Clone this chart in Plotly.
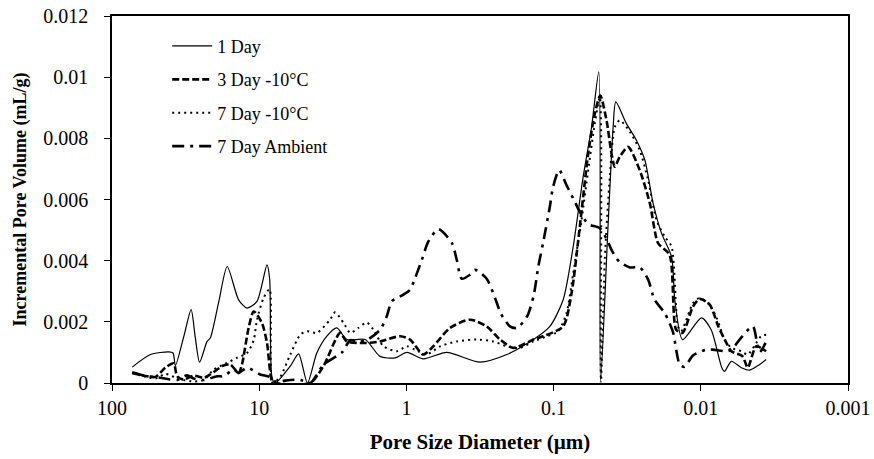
import plotly.graph_objects as go

# ---- data (pore diameter in µm, incremental pore volume in mL/g) ----
d_1day = [72.9, 54.8, 41.2, 38.5, 37.1, 32.6, 29.0, 27.2, 25.4, 22.6, 21.5, 18.8, 16.5, 13.8, 12.1, 10.35,
          8.85, 8.49, 8.18, 7.78, 6.15, 5.4, 4.70, 4.06, 3.47, 2.97, 2.54, 1.905, 1.51, 1.19, 0.993, 0.767,
          0.532, 0.316, 0.208, 0.137, 0.106, 0.0861, 0.0736, 0.0630, 0.0552, 0.0493, 0.0480, 0.0427, 0.0394,
          0.0378, 0.0320, 0.0274, 0.0240, 0.0211, 0.0185, 0.0158, 0.0150, 0.0133, 0.0099, 0.0085, 0.0072,
          0.0069, 0.0062, 0.0053, 0.00466, 0.0040, 0.0036]
v_1day = [0.00052, 0.00093, 0.00102, 0.00098, 0.00057, 0.0015, 0.0024, 0.0015, 0.00068, 0.00136, 0.00147,
          0.00267, 0.00381, 0.00272, 0.00245, 0.00267, 0.00386, 0.0034, 0.00017, 0.0, 0.00055, 0.00095, 0.0,
          0.00098, 0.00153, 0.0018, 0.00142, 0.00142, 0.00087, 0.00082, 0.001, 0.00079, 0.001, 0.00068,
          0.00093, 0.00142, 0.00185, 0.00272, 0.00446, 0.00674, 0.00837, 0.01017, 0.00005, 0.0051, 0.00837,
          0.00919, 0.00848, 0.00794, 0.00729, 0.00588, 0.0049, 0.00413, 0.0027, 0.00142, 0.00213, 0.00174,
          0.0005, 0.00038, 0.00071, 0.0005, 0.00042, 0.0006, 0.00077]

d_3day = [72.9, 57.7, 50.7, 43.4, 38.1, 36.1, 32.6, 27.9, 23.8, 21.5, 17.5, 15.7, 13.8, 13.1, 11.8, 10.9,
          9.57, 8.85, 8.18, 7.78, 4.50, 3.66, 2.82, 2.54, 1.86, 1.51, 1.10, 0.944, 0.767, 0.656, 0.506, 0.370,
          0.285, 0.231, 0.188, 0.137, 0.118, 0.0861, 0.0755, 0.0664, 0.0582, 0.0525, 0.0482, 0.0437, 0.0404,
          0.0384, 0.0355, 0.0312, 0.0260, 0.0222, 0.0195, 0.0163, 0.0147, 0.0133, 0.0113, 0.0102, 0.0087,
          0.0076, 0.0067, 0.0062, 0.0052, 0.0048, 0.0042, 0.0036]
v_3day = [0.00033, 0.00022, 0.0002, 0.0005, 0.00064, 0.00022, 0.00011, 0.00024, 0.00017, 0.00028, 0.00057,
          0.0006, 0.00033, 0.0006, 0.0018, 0.00234, 0.00196, 0.00131, 0.00006, 0.0, 0.0, 0.00055, 0.00164,
          0.00136, 0.00131, 0.00136, 0.00153, 0.00142, 0.00093, 0.0012, 0.0018, 0.00207, 0.00185, 0.00142,
          0.00115, 0.00142, 0.00153, 0.00185, 0.00294, 0.00511, 0.0075, 0.00881, 0.0094, 0.00859, 0.0075,
          0.00707, 0.0074, 0.00772, 0.00696, 0.00588, 0.00457, 0.00419, 0.00174, 0.00164, 0.0025, 0.00275,
          0.00256, 0.00185, 0.00131, 0.00104, 0.00087, 0.0005, 0.0012, 0.00104]

d_7day = [72.9, 60.8, 50.7, 43.4, 37.1, 32.6, 27.9, 23.8, 20.4, 17.5, 16.5, 14.2, 12.1, 10.9, 10.35, 9.34,
          8.49, 8.1, 7.19, 6.15, 5.26, 4.74, 4.06, 3.30, 3.05, 2.67, 2.41, 2.12, 1.86, 1.675, 1.43, 1.16,
          0.993, 0.873, 0.728, 0.590, 0.455, 0.333, 0.257, 0.208, 0.169, 0.137, 0.111, 0.0931, 0.0817,
          0.0736, 0.0646, 0.0582, 0.0525, 0.0485, 0.0477, 0.0449, 0.0415, 0.0384, 0.0355, 0.0303, 0.0260,
          0.0228, 0.0200, 0.0176, 0.0158, 0.0143, 0.0136, 0.0113, 0.0102, 0.0089, 0.0078, 0.0069, 0.0062,
          0.0053, 0.0048, 0.0042, 0.0039, 0.0036]
v_7day = [0.00033, 0.00022, 0.00015, 0.0003, 0.00018, 0.0001, 0.00005, 0.0001, 0.00044, 0.0006, 0.00066,
          0.00082, 0.00098, 0.0014, 0.00207, 0.00278, 0.00307, 0.0, 0.0002, 0.00093, 0.00158, 0.00169,
          0.00164, 0.00207, 0.00231, 0.00196, 0.00164, 0.0018, 0.00198, 0.00174, 0.0012, 0.00104, 0.0012,
          0.00109, 0.00093, 0.0012, 0.00136, 0.00142, 0.00136, 0.0012, 0.00115, 0.00136, 0.00153, 0.00169,
          0.00229, 0.00359, 0.00533, 0.00696, 0.00848, 0.00935, 0.0, 0.00403, 0.00674, 0.00837, 0.00859,
          0.00821, 0.00761, 0.00664, 0.00533, 0.00479, 0.00446, 0.00185, 0.00169, 0.00261, 0.00278, 0.00261,
          0.00213, 0.00142, 0.00115, 0.00104, 0.00093, 0.00131, 0.00153, 0.00158]

d_amb = [72.9, 57.7, 50.7, 41.2, 36.1, 30.9, 27.9, 23.8, 19.3, 17.5, 14.9, 13.8, 12.1, 9.84, 8.5, 7.8,
         6.15, 5.26, 4.50, 3.66, 2.74, 2.41, 2.12, 1.86, 1.51, 1.36, 1.256, 1.047, 0.944, 0.873, 0.785,
         0.710, 0.607, 0.492, 0.455, 0.421, 0.370, 0.342, 0.285, 0.250, 0.228, 0.198, 0.178, 0.152, 0.137,
         0.127, 0.118, 0.106, 0.1007, 0.0916, 0.0817, 0.0718, 0.0664, 0.0582, 0.0485, 0.0427, 0.0404,
         0.0359, 0.0303, 0.0260, 0.0228, 0.0206, 0.0176, 0.0154, 0.0147, 0.0139, 0.0129, 0.0113, 0.0092,
         0.0083, 0.0065, 0.0059, 0.00545, 0.00443, 0.0040, 0.00363]
v_amb = [0.00035, 0.00022, 0.0002, 0.00012, 0.0001, 0.00025, 0.00015, 0.0001, 0.00022, 0.00022, 0.00044,
         0.00033, 0.0005, 0.00028, 0.0002, 0.00005, 0.0001, 0.0001, 0.0, 0.0006, 0.001, 0.0014, 0.00135,
         0.0014, 0.00174, 0.00218, 0.00267, 0.00289, 0.00305, 0.00343, 0.00403, 0.00462, 0.00503, 0.00459,
         0.00403, 0.00341, 0.00354, 0.0037, 0.00341, 0.00278, 0.00227, 0.00185, 0.0018, 0.00216, 0.00283,
         0.00381, 0.00457, 0.00577, 0.00642, 0.00696, 0.00647, 0.00593, 0.0056, 0.0052, 0.00506, 0.00462,
         0.00435, 0.00397, 0.00378, 0.00378, 0.00338, 0.00272, 0.00229, 0.00164, 0.00109, 0.0006, 0.00053,
         0.0009, 0.00109, 0.00109, 0.00104, 0.0012, 0.00142, 0.00185, 0.0010, 0.00131]

x_ticks = [100, 10, 1, 0.1, 0.01, 0.001]
x_tick_text = ["100", "10", "1", "0.1", "0.01", "0.001"]
y_ticks = [0, 0.002, 0.004, 0.006, 0.008, 0.01, 0.012]
y_tick_text = ["0", "0.002", "0.004", "0.006", "0.008", "0.01", "0.012"]

series = [
    ("1 Day", d_1day, v_1day, dict(color="black", width=1.2, dash="solid")),
    ("3 Day -10°C", d_3day, v_3day, dict(color="black", width=2.6, dash="7px,3px")),
    ("7 Day -10°C", d_7day, v_7day, dict(color="black", width=2, dash="2px,4px")),
    ("7 Day Ambient", d_amb, v_amb, dict(color="black", width=2.6, dash="12px,6px,3px,6px")),
]

FONT = "Liberation Serif, Times New Roman, serif"

fig = go.Figure()
for i, (name, xs, ys, line) in enumerate(series):
    fig.add_trace(go.Scatter(
        x=xs, y=ys, mode="lines", name=name, legendgroup=f"g{i}",
        line=dict(shape="spline", smoothing=0.7, **line),
    ))

fig.update_layout(
    width=874, height=459,
    margin=dict(l=111.5, r=25.5, t=15.5, b=75.5, autoexpand=False),
    paper_bgcolor="white", plot_bgcolor="white",
    font=dict(family=FONT, size=20, color="black"),
    showlegend=True,
    legend=dict(
        x=0.075, y=0.968, xanchor="left", yanchor="top",
        bgcolor="rgba(0,0,0,0)", font=dict(size=18),
        traceorder="grouped", tracegroupgap=7, itemwidth=40,
    ),
    xaxis=dict(
        type="log", range=[2, -3], automargin=False,
        tickvals=x_ticks, ticktext=x_tick_text,
        showgrid=False, zeroline=False,
        showline=True, linecolor="black", linewidth=1.5, mirror=True,
        ticks="outside", ticklen=6, tickcolor="black",
        title=dict(text="<b>Pore Size Diameter (µm)</b>", font=dict(size=21), standoff=17),
    ),
    yaxis=dict(
        range=[0, 0.012], automargin=False,
        tickvals=y_ticks, ticktext=y_tick_text,
        showgrid=False, zeroline=False,
        showline=True, linecolor="black", linewidth=1.5, mirror=True,
        ticks="outside", ticklen=6, tickcolor="black", ticklabelstandoff=12,
        title=dict(text="<b>Incremental Pore Volume (mL/g)</b>", font=dict(size=18), standoff=12),
    ),
)

fig.write_html("out.html")
